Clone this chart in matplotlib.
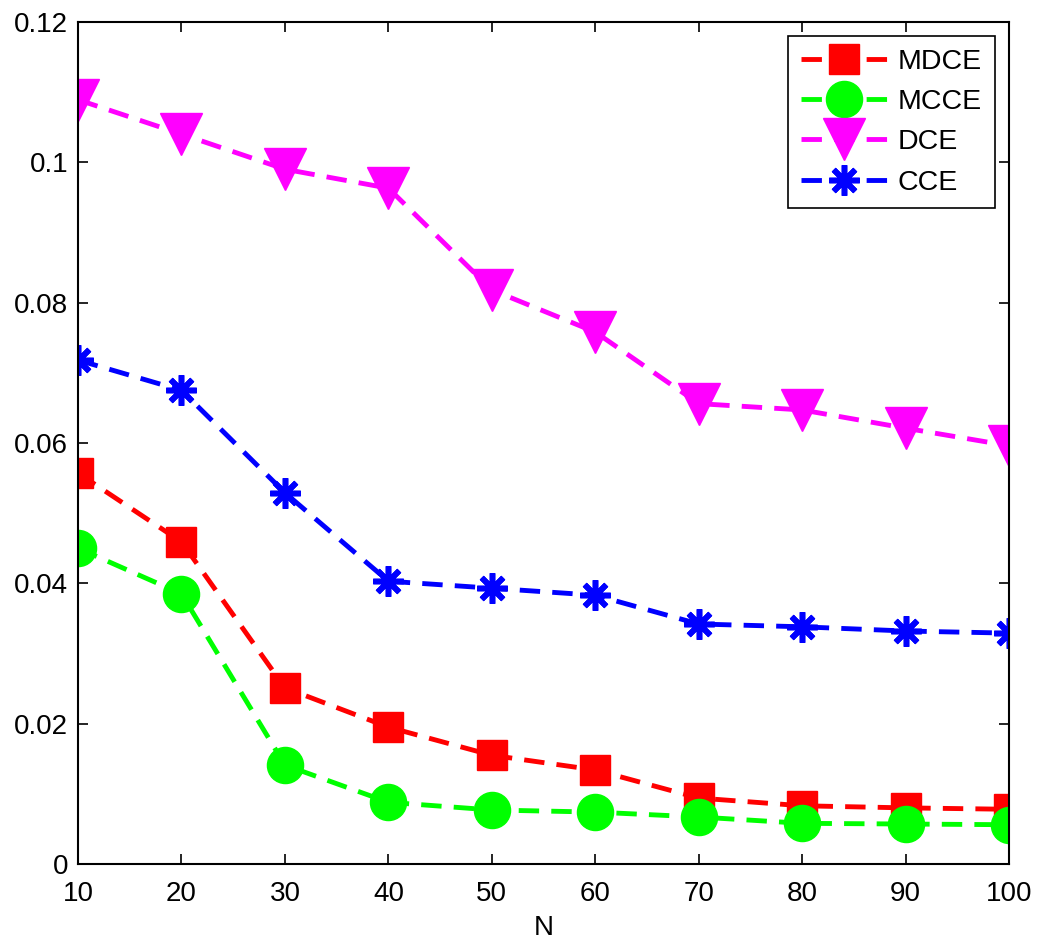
import matplotlib.pyplot as plt

plt.rcParams['font.family'] = ['Liberation Sans', 'DejaVu Sans']

N = [10, 20, 30, 40, 50, 60, 70, 80, 90, 100]
mdce = [0.0557, 0.0459, 0.0251, 0.0195, 0.0155, 0.0134, 0.0094, 0.0083, 0.0080, 0.0078]
mcce = [0.0450, 0.0385, 0.0141, 0.0088, 0.0077, 0.0074, 0.0067, 0.0058, 0.0057, 0.0056]
dce = [0.1089, 0.1040, 0.0990, 0.0963, 0.0818, 0.0758, 0.0656, 0.0647, 0.0621, 0.0596]
cce = [0.0718, 0.0675, 0.0529, 0.0403, 0.0393, 0.0383, 0.0342, 0.0338, 0.0332, 0.0329]

fig = plt.figure(figsize=(10.42, 9.5), dpi=100)
ax = fig.add_axes([0.0749, 0.0905, 0.8935, 0.8865])

lw = 3.5
dash = (4.2, 2.5)
ax.plot(N, mdce, color='#ff0000', lw=lw, dashes=dash, marker='s', ms=22, label='MDCE')
ax.plot(N, mcce, color='#00ff00', lw=lw, dashes=dash, marker='o', ms=26, label='MCCE')
ax.plot(N, dce, color='#ff00ff', lw=lw, dashes=dash, marker='v', ms=30, label='DCE')
ax.plot(N, cce, color='#0000ff', lw=lw, dashes=dash, marker=(8, 2, 0), ms=22, mew=4, label='CCE')

ax.set_xlim(10, 100)
ax.set_ylim(0, 0.12)
ax.set_xticks(N)
ax.set_yticks([0, 0.02, 0.04, 0.06, 0.08, 0.1, 0.12])
ax.set_yticklabels(['0', '0.02', '0.04', '0.06', '0.08', '0.1', '0.12'])
ax.tick_params(direction='in', length=7, width=1.2, labelsize=20, top=True, right=True)
ax.tick_params(axis='x', pad=12)
ax.tick_params(axis='y', pad=7)
for s in ax.spines.values():
    s.set_linewidth(1.5)
ax.set_xlabel('N', fontsize=20, labelpad=6)

leg = ax.legend(loc='upper right', fontsize=20.5, fancybox=False, edgecolor='black',
                handlelength=3.0, handletextpad=0.4, borderaxespad=0.5,
                labelspacing=0.5, borderpad=0.45, framealpha=1)
leg.get_frame().set_linewidth(1.2)

fig.savefig('out.png', dpi=100)
